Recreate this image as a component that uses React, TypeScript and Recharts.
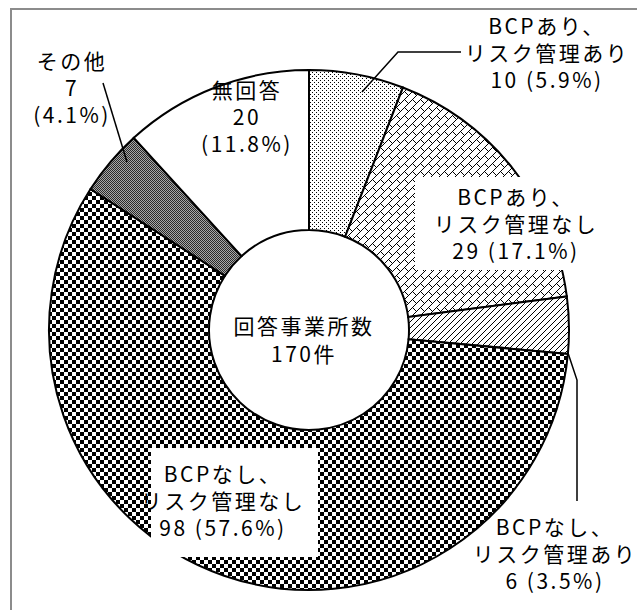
import React from "react";
import { PieChart, Pie, Cell } from "recharts";

const categories = [
  "BCPあり、リスク管理あり",
  "BCPあり、リスク管理なし",
  "BCPなし、リスク管理あり",
  "BCPなし、リスク管理なし",
  "その他",
  "無回答",
];
const values = [10, 29, 6, 98, 7, 20];
const percents = ["5.9%", "17.1%", "3.5%", "57.6%", "4.1%", "11.8%"];
const labelLines = [
  ["BCPあり、", "リスク管理あり", "10 (5.9%)"],
  ["BCPあり、", "リスク管理なし", "29 (17.1%)"],
  ["BCPなし、", "リスク管理あり", "6 (3.5%)"],
  ["BCPなし、", "リスク管理なし", "98 (57.6%)"],
  ["その他", "7", "(4.1%)"],
  ["無回答", "20", "(11.8%)"],
];
const centerLines = ["回答事業所数", "170件"];

const data = categories.map((name, i) => ({ name, value: values[i], pct: percents[i] }));

const fills = [
  "url(#pDots)",
  "url(#pBrick)",
  "url(#pDiag)",
  "url(#pChecker)",
  "url(#pGrey)",
  "#ffffff",
];

type Layout = {
  dx: number;
  dy: number;
  box?: [number, number, number, number];
  leader?: [number, number][];
};
// positions relative to the pie centre
const layouts: Layout[] = [
  { dx: 238, dy: -278, leader: [[53, -238], [89, -278], [152, -278]] },
  { dx: 207, dy: -107, box: [106, -153, 210, 93] },
  { dx: 246, dy: 223, leader: [[259, 23], [268, 50], [268, 171]] },
  { dx: -86, dy: 170, box: [-158, 118, 167, 109] },
  { dx: -237, dy: -243, leader: [[-206, -247], [-182, -168]] },
  { dx: -62, dy: -214 },
];

const FONT = "'Noto Sans CJK JP', 'Noto Sans', sans-serif";
const LINE_H = 27;
const FS = 21;
const LS = 2.5;

function bitmapRects(rows: string[]) {
  const out: React.ReactElement[] = [];
  rows.forEach((r, y) =>
    r.split("").forEach((c, x) => {
      if (c === "1") out.push(<rect key={x + "-" + y} x={x} y={y} width={1} height={1} fill="#000" />);
    })
  );
  return out;
}

const Patterns = () => (
  <svg width={0} height={0} style={{ position: "absolute" }}>
    <defs>
      <pattern id="pDots" width={4} height={4} patternUnits="userSpaceOnUse">
        <rect width={4} height={4} fill="#fff" />
        <rect x={0} y={0} width={1} height={1} fill="#000" />
        <rect x={2} y={2} width={1} height={1} fill="#000" />
      </pattern>
      <pattern id="pBrick" width={8} height={8} patternUnits="userSpaceOnUse">
        <rect width={8} height={8} fill="#fff" />
        {bitmapRects([
          "00000001",
          "00000010",
          "00000100",
          "00001000",
          "00010100",
          "00100010",
          "01000001",
          "10000000",
        ])}
      </pattern>
      <pattern id="pDiag" width={6} height={6} patternUnits="userSpaceOnUse">
        <rect width={6} height={6} fill="#fff" />
        {bitmapRects(["000001", "000010", "000100", "001000", "010000", "100000"])}
      </pattern>
      <pattern id="pChecker" width={8} height={8} patternUnits="userSpaceOnUse">
        <rect width={8} height={8} fill="#fff" />
        <rect x={0} y={0} width={4} height={4} fill="#000" />
        <rect x={4} y={4} width={4} height={4} fill="#000" />
      </pattern>
      <pattern id="pGrey" width={2} height={2} patternUnits="userSpaceOnUse">
        <rect width={2} height={2} fill="#a8a8a8" />
        <rect x={0} y={0} width={1} height={1} fill="#2a2a2a" />
        <rect x={1} y={1} width={1} height={1} fill="#2a2a2a" />
      </pattern>
    </defs>
  </svg>
);

const renderLabel = (props: any) => {
  const { cx, cy, index } = props;
  const L = layouts[index];
  const lines = labelLines[index];
  const tx = cx + L.dx;
  const ty = cy + L.dy;
  const startY = ty - ((lines.length - 1) * LINE_H) / 2;
  return (
    <g key={"lbl" + index}>
      {L.box && <rect x={cx + L.box[0]} y={cy + L.box[1]} width={L.box[2]} height={L.box[3]} fill="#fff" />}
      {L.leader && (
        <polyline
          points={L.leader.map(([x, y]) => `${cx + x},${cy + y}`).join(" ")}
          fill="none"
          stroke="#000"
          strokeWidth={1.5}
        />
      )}
      <text x={tx} y={startY} textAnchor="middle" fontFamily={FONT} fontSize={FS} letterSpacing={LS} fill="#000">
        {lines.map((ln, i) => (
          <tspan key={i} x={tx} y={startY + i * LINE_H} dominantBaseline="central">
            {ln}
          </tspan>
        ))}
      </text>
    </g>
  );
};

export default function App() {
  const cx = 304;
  const cy = 325;
  return (
    <div style={{ position: "absolute", left: 0, top: 0, width: 637, height: 610, background: "#fff", overflow: "hidden" }}>
      <Patterns />
      <div
        style={{
          position: "absolute",
          left: 10,
          top: 8,
          width: 700,
          height: 700,
          border: "2px solid #8c8c8c",
          boxSizing: "border-box",
        }}
      />
      <div style={{ position: "absolute", left: 0, top: 0 }}>
        <PieChart width={637} height={610}>
          <Pie
            data={data}
            dataKey="value"
            nameKey="name"
            cx={cx}
            cy={cy}
            innerRadius={100}
            outerRadius={260}
            startAngle={90}
            endAngle={-270}
            stroke="#000"
            strokeWidth={2}
            label={renderLabel}
            labelLine={false}
            isAnimationActive={false}
          >
            {data.map((d, i) => (
              <Cell key={d.name} fill={fills[i]} />
            ))}
          </Pie>
          <text x={cx} y={cy} textAnchor="middle" fontFamily={FONT} fontSize={FS} letterSpacing={LS} fill="#000">
            <tspan x={cx} y={cy} dominantBaseline="central">{centerLines[0]}</tspan>
            <tspan x={cx} y={cy + 28} dominantBaseline="central">{centerLines[1]}</tspan>
          </text>
        </PieChart>
      </div>
    </div>
  );
}
